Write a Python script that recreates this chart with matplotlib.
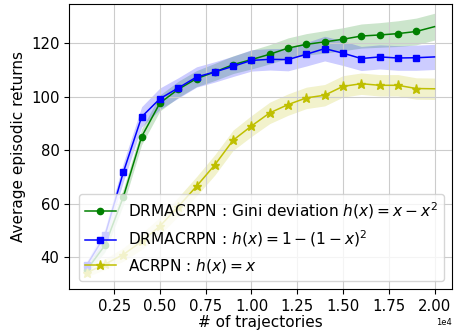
import matplotlib
matplotlib.use('Agg')
import matplotlib.pyplot as plt
import numpy as np

# x axis: number of trajectories
trajectories = np.arange(1000, 20001, 1000)

gini_mean = [35.3, 44.6, 62.6, 85.1, 97.7, 102.8, 106.8, 109.3, 112.0, 113.9,
             115.9, 118.2, 119.6, 120.5, 121.5, 122.7, 123.1, 123.6, 124.4, 126.2]
gini_std = [1.5, 2.5, 3.0, 3.0, 3.0, 3.0, 3.0, 3.2, 3.3, 3.5,
            3.6, 3.8, 4.0, 4.2, 4.3, 4.5, 4.6, 4.8, 5.0, 5.0]

conc_mean = [37.1, 48.3, 71.8, 92.5, 99.3, 103.3, 107.4, 109.3, 111.4, 113.6,
             114.0, 113.9, 115.9, 118.0, 116.3, 114.3, 114.9, 114.5, 114.6, 114.9]
conc_std = [1.5, 2.5, 3.5, 3.8, 4.0, 3.8, 3.8, 3.8, 3.8, 4.0,
            4.0, 4.2, 4.4, 4.6, 4.6, 4.5, 4.5, 4.6, 4.7, 4.7]

acrpn_mean = [34.3, 37.5, 41.1, 46.0, 51.7, 59.0, 66.6, 74.6, 83.8, 89.1,
              94.0, 97.1, 99.6, 100.6, 103.9, 104.9, 104.3, 104.3, 103.1, 103.0]
acrpn_std = [1.5, 2.0, 2.5, 3.0, 3.3, 3.5, 3.6, 3.8, 3.8, 3.9,
             4.0, 4.0, 4.0, 4.0, 4.0, 4.0, 4.0, 4.0, 4.0, 4.0]

labels = [r'DRMACRPN : Gini deviation $h(x)=x-x^2$',
          r'DRMACRPN : $h(x)=1-(1-x)^2$',
          r'ACRPN : $h(x)=x$']

fig, ax = plt.subplots(figsize=(4.56, 3.30), dpi=100)
fig.subplots_adjust(left=0.152, right=0.991, bottom=0.124, top=0.989)

series = [(gini_mean, gini_std, 'g', 'o'),
          (conc_mean, conc_std, 'b', 's'),
          (acrpn_mean, acrpn_std, 'y', '*')]
marks = list(range(len(trajectories) - 1))
for (m, s, c, mk), lab in zip(series, labels):
    m = np.array(m)
    s = np.array(s)
    ax.plot(trajectories, m, color=c, marker=mk, markevery=marks,
            lw=1.1, ms=4.5 if mk != '*' else 6.5, label=lab)
    ax.fill_between(trajectories, m - s, m + s, color=c, alpha=0.2, lw=0)

ax.set_ylim(28.2, 134.8)
ax.set_xticks([2500, 5000, 7500, 10000, 12500, 15000, 17500, 20000])
ax.ticklabel_format(axis='x', style='sci', scilimits=(0, 0))
ax.xaxis.get_offset_text().set_fontsize(6)
ax.tick_params(labelsize=10.7)
ax.grid(True, color='#cccccc')
ax.set_xlabel('# of trajectories', fontsize=11, labelpad=1)
ax.set_ylabel('Average episodic returns', fontsize=11, labelpad=4)
ax.legend(loc='lower right', fontsize=11.1, handlelength=2.0)

plt.savefig('out.png', dpi=100)
